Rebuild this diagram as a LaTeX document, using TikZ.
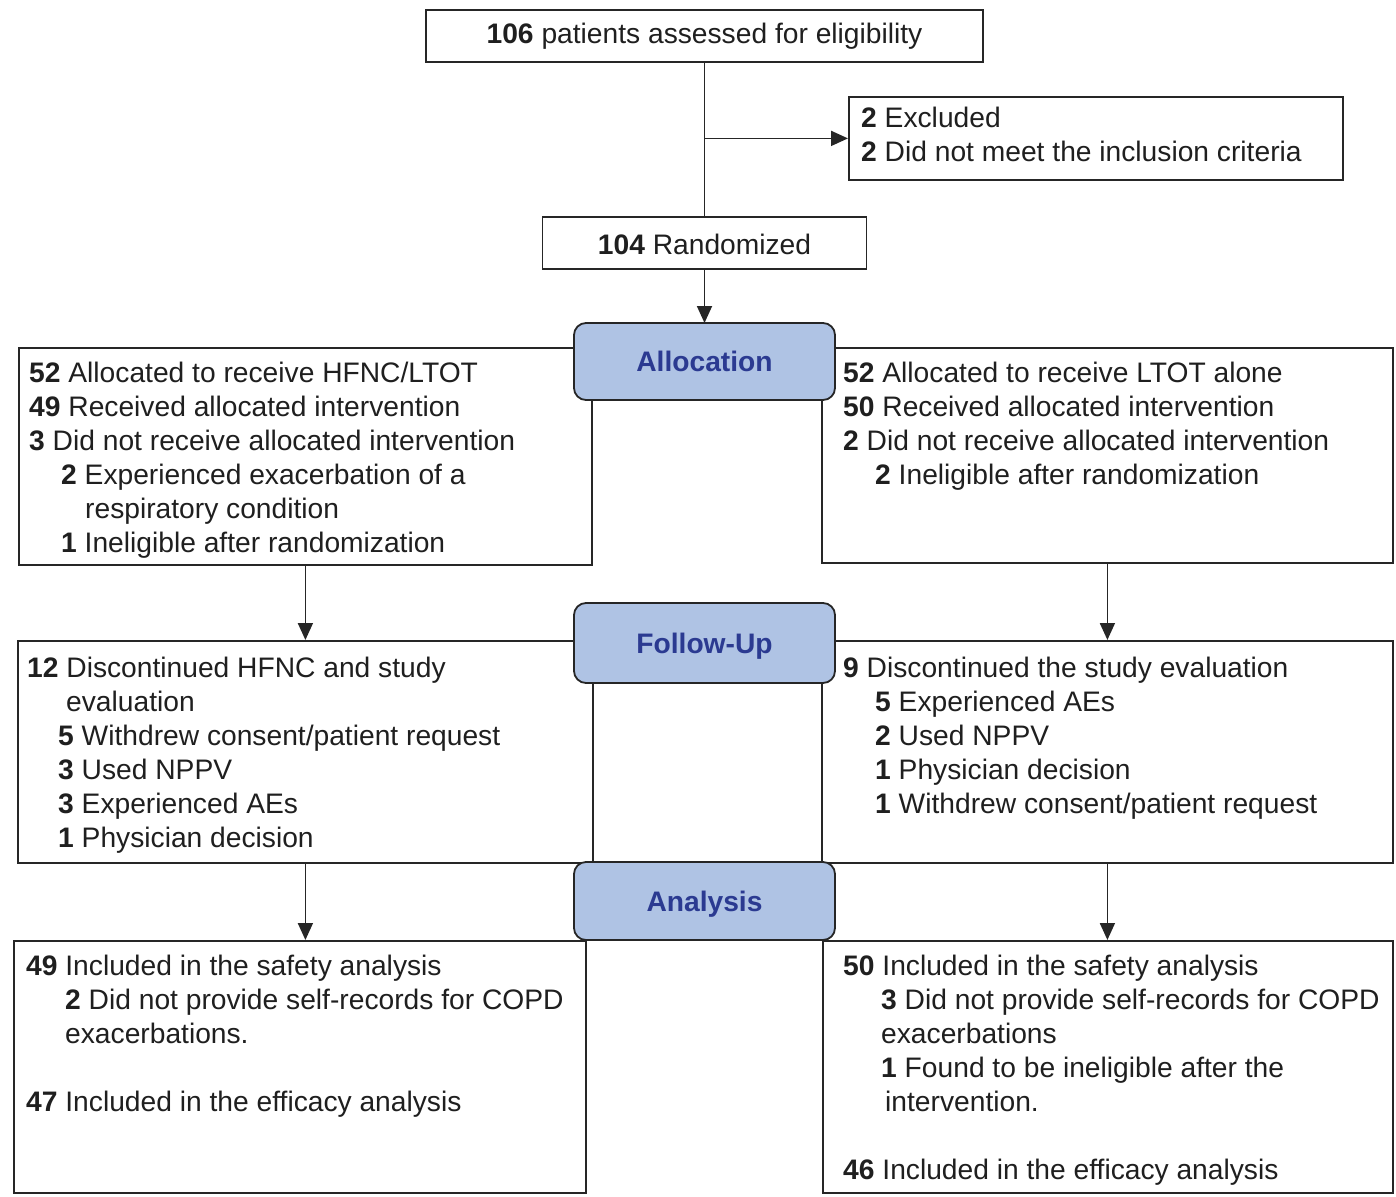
\documentclass[tikz,border=0pt]{standalone}
\usepackage{fontspec}
\setmainfont{Liberation Sans}
\usetikzlibrary{arrows.meta}
\definecolor{boxline}{HTML}{262626}
\definecolor{phasefill}{HTML}{AFC3E4}
\definecolor{phasetext}{HTML}{2B3A91}
\begin{document}
\begin{tikzpicture}[x=1pt,y=-1pt,
  every node/.style={font=\fontsize{28.2}{34}\selectfont, text=black!88},
  box/.style={draw=boxline, line width=1.8pt, fill=white, inner sep=0pt, anchor=north west},
  cbox/.style={draw=boxline, line width=1.8pt, fill=white, inner sep=0pt, anchor=center, text height=22pt, text depth=6pt},
  phase/.style={draw=boxline, line width=1.8pt, fill=phasefill, rounded corners=12pt,
    minimum width=261pt, minimum height=78pt, inner sep=0pt, text=phasetext,
    font=\fontsize{28.2}{34}\selectfont\bfseries, text height=20pt, text depth=0pt},
  txt/.style={inner sep=0pt, anchor=base west},
  conn/.style={draw=boxline, line width=1.8pt},
  arr/.style={conn, -{Triangle[length=17pt,width=15pt]}}]
\useasboundingbox (0,0) rectangle (1396,1196);

% top part
\node[cbox, minimum width=557pt, minimum height=52pt] (top) at (704.5,36) {\textbf{106} patients assessed for eligibility};
\node[box, minimum width=494pt, minimum height=83pt] (excl) at (848,96) {};
\node[txt] (excltxt) at (861,128) {\parbox[t]{600pt}{\textbf{2} Excluded\\\textbf{2} Did not meet the inclusion criteria}};
\node[cbox, minimum width=324pt, minimum height=52pt, text depth=0pt] (rand) at (704.5,243) {\textbf{104} Randomized};

% allocation boxes
\node[box, minimum width=573pt, minimum height=217pt] (lal) at (18,347) {};
\node[box, minimum width=571pt, minimum height=215pt] (ral) at (821,347) {};
\node[txt] (laltxt) at (29,382) {\parbox[t]{600pt}{%
\textbf{52} Allocated to receive HFNC/LTOT\\
\textbf{49} Received allocated intervention\\
\textbf{3} Did not receive allocated intervention\\
\hspace*{32pt}\textbf{2} Experienced exacerbation of a\\
\hspace*{56pt}respiratory condition\\
\hspace*{32pt}\textbf{1} Ineligible after randomization}};
\node[txt] (raltxt) at (843,382) {\parbox[t]{600pt}{%
\textbf{52} Allocated to receive LTOT alone\\
\textbf{50} Received allocated intervention\\
\textbf{2} Did not receive allocated intervention\\
\hspace*{32pt}\textbf{2} Ineligible after randomization}};

% follow-up boxes
\node[box, minimum width=575pt, minimum height=222pt] (lfu) at (17,640) {};
\node[box, minimum width=571pt, minimum height=222pt] (rfu) at (821,640) {};
\node[txt] (lfutxt) at (27,677) {\parbox[t]{600pt}{%
\textbf{12} Discontinued HFNC and study\\
\hspace*{39pt}evaluation\\
\hspace*{31pt}\textbf{5} Withdrew consent/patient request\\
\hspace*{31pt}\textbf{3} Used NPPV\\
\hspace*{31pt}\textbf{3} Experienced AEs\\
\hspace*{31pt}\textbf{1} Physician decision}};
\node[txt] (rfutxt) at (843,677) {\parbox[t]{600pt}{%
\textbf{9} Discontinued the study evaluation\\
\hspace*{32pt}\textbf{5} Experienced AEs\\
\hspace*{32pt}\textbf{2} Used NPPV\\
\hspace*{32pt}\textbf{1} Physician decision\\
\hspace*{32pt}\textbf{1} Withdrew consent/patient request}};

% analysis boxes
\node[box, minimum width=572pt, minimum height=252pt] (lan) at (13,940) {};
\node[box, minimum width=570pt, minimum height=252pt] (ran) at (822,940) {};
\node[txt] (lantxt) at (26,975) {\parbox[t]{600pt}{%
\textbf{49} Included in the safety analysis\\
\hspace*{39pt}\textbf{2} Did not provide self-records for COPD\\
\hspace*{39pt}exacerbations.\\[34pt]
\textbf{47} Included in the efficacy analysis}};
\node[txt] (rantxt) at (843,975) {\parbox[t]{600pt}{%
\textbf{50} Included in the safety analysis\\
\hspace*{38pt}\textbf{3} Did not provide self-records for COPD\\
\hspace*{38pt}exacerbations\\
\hspace*{38pt}\textbf{1} Found to be ineligible after the\\
\hspace*{42pt}intervention.\\[34pt]
\textbf{46} Included in the efficacy analysis}};

% connectors
\coordinate (split) at (top.south |- excl.west);
\draw[conn] (top.south) -- (rand.north);
\draw[arr] (split) -- (excl.west);
\draw[arr] (rand.south) -- (rand.south |- 0,323);
\draw[arr] (lal.south) -- (lfu.north);
\draw[arr] (ral.south) -- (rfu.north);
\draw[arr] (lfu.south) -- (lfu.south |- lan.north);
\draw[arr] (rfu.south) -- (rfu.south |- ran.north);

% phase labels
\node[phase, minimum height=77pt] (alloc) at (704.5,361.5) {Allocation};
\node[phase, minimum height=80pt] (fu) at (704.5,643) {Follow-Up};
\node[phase, minimum height=78pt] (an) at (704.5,901) {Analysis};
\end{tikzpicture}
\end{document}
